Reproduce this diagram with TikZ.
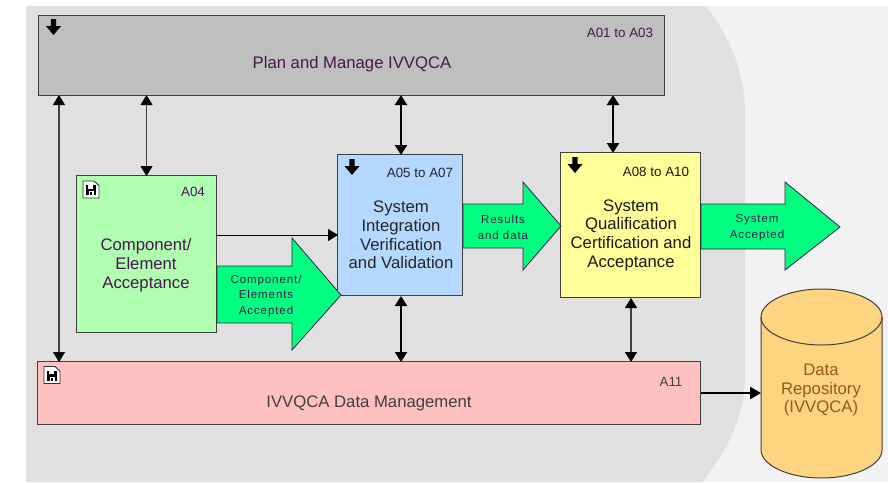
\documentclass[tikz,border=0pt]{standalone}
\usepackage{fontspec}
\setmainfont{Liberation Sans}
\newfontfamily\spacedfont[LetterSpace=8]{Liberation Sans}
\usetikzlibrary{arrows.meta}
\definecolor{lightbg}{HTML}{F2F2F2}
\definecolor{greybg}{HTML}{E0E0E0}
\definecolor{plumtext}{HTML}{4A1650}
\definecolor{edgedark}{HTML}{404040}
\definecolor{arrowgreen}{HTML}{00FF80}
\definecolor{arrowedge}{HTML}{4A1650}
\tikzset{
  x=1pt,y=-1pt,
  box/.style={draw=edgedark,line width=0.9pt,inner sep=0pt,outer sep=0pt,anchor=north west},
  title/.style={font=\fontsize{16.7}{18.7}\selectfont,align=center,inner sep=0pt},
  code/.style={font=\fontsize{13.4}{15}\selectfont,inner sep=0pt},
  small/.style={font=\spacedfont\fontsize{11.5}{15.8}\selectfont,align=center,inner sep=0pt,text=plumtext},
  link/.style={draw=black!75,line width=1.2pt,{Triangle[length=10pt,width=12pt,color=black]}-{Triangle[length=10pt,width=12pt,color=black]}},
  boldlink/.style={draw=black,line width=2.4pt,{Triangle[length=10pt,width=12pt,color=black]}-{Triangle[length=10pt,width=12pt,color=black]}},
  fat/.style={fill=arrowgreen,draw=arrowedge,line width=0.8pt,line join=miter},
  downicon/.pic={\fill[black] (-2.7,-8)--(2.7,-8)--(2.7,-1)--(7.5,-1)--(0,8)--(-7.5,-1)--(-2.7,-1)--cycle;},
  docicon/.pic={
    \draw[fill=white,draw=black!80,line width=0.9pt] (-8,-8.5)--(3,-8.5)--(8,-4)--(8,8.5)--(-8,8.5)--cycle;
    \fill[black] (-5,-4.5) rectangle (5,5.5);
    \fill[white] (-3,-4.5) rectangle (2,-1);
    \fill[white] (-2.5,1.5) rectangle (2.5,5.5);
    \fill[black] (-1,2.5) rectangle (1,5.5);
  }
}
\begin{document}
\begin{tikzpicture}
\useasboundingbox (0,0) rectangle (888,482);
\fill[white] (0,0) rectangle (888,482);
\fill[lightbg] (26,6) rectangle (888,482);
\fill[greybg] (26,6) -- (706,6) .. controls (732,40) and (745,75) .. (745,112) -- (745,377)
  .. controls (745,415) and (728,450) .. (702,482) -- (26,482) -- cycle;

\node[box,fill=black!25,minimum width=626,minimum height=80] (plan) at (38.5,15) {};
\node[box,fill={rgb,255:red,176;green,255;blue,176},minimum width=140,minimum height=157] (acc) at (76.5,175.5) {};
\node[box,fill={rgb,255:red,180;green,216;blue,255},minimum width=125,minimum height=141] (sys) at (337.5,154.5) {};
\node[box,fill={rgb,255:red,255;green,255;blue,153},minimum width=140,minimum height=145] (qual) at (560.5,152.5) {};
\node[box,fill={rgb,255:red,255;green,192;blue,192},minimum width=663,minimum height=63] (dm) at (37.5,361.5) {};

% repository cylinder
\node[inner sep=0pt,outer sep=0pt,anchor=north west,minimum width=121,minimum height=189] (repo) at (761,289) {};
\draw[draw=edgedark,line width=1pt,fill={rgb,255:red,255;green,212;blue,128}]
  (761,317) .. controls (761,302) and (788,289) .. (821.5,289)
  .. controls (855,289) and (882,302) .. (882,317) -- (882,450)
  .. controls (882,465) and (855,478) .. (821.5,478)
  .. controls (788,478) and (761,465) .. (761,450) -- cycle;
\draw[draw=edgedark,line width=1pt] (761,317) .. controls (761,332) and (788,345) .. (821.5,345)
  .. controls (855,345) and (882,332) .. (882,317);

% coordinates for connector ends
\coordinate (p1) at (59,95); \coordinate (d1) at (59,362);
\coordinate (p2) at (146.5,95); \coordinate (a2) at (146.5,176);
\coordinate (p3) at (401,95); \coordinate (s3) at (401,155);
\coordinate (s4) at (401,296); \coordinate (d4) at (401,362);
\coordinate (p5) at (613,95); \coordinate (q5) at (613,153);
\coordinate (q6) at (631,298); \coordinate (d6) at (631,362);
\coordinate (a7) at (217,235); \coordinate (s7) at (338,235);
\coordinate (d8) at (701,393); \coordinate (r8) at (761,393);

\draw[link] (p1) -- (d1);
\draw[link] (p2) -- (a2);
\draw[boldlink] (p3) -- (s3);
\draw[boldlink] (s4) -- (d4);
\draw[boldlink] (p5) -- (q5);
\draw[link] (q6) -- (d6);
\draw[draw=black,line width=1pt,-{Triangle[length=10pt,width=12pt]}] (a7) -- (s7);
\draw[draw=black,line width=2.4pt,-{Triangle[length=11pt,width=12pt]}] (d8) -- (r8);

% fat arrows
\draw[fat] (217,266) -- (292,266) -- (292,238) -- (341,295) -- (292,350) -- (292,323) -- (217,323) -- cycle;
\draw[fat] (463,204) -- (523,204) -- (523,182) -- (561,226) -- (523,270) -- (523,248) -- (463,248) -- cycle;
\draw[fat] (701,204) -- (785,204) -- (785,182) -- (840,227) -- (785,270) -- (785,249) -- (701,249) -- cycle;

% texts
\node[title,text=plumtext] (t1) at (352,64.5) {Plan and Manage IVVQCA};
\node[code,text=plumtext] (c1) at (620,32.5) {A01 to A03};
\node[title,text=plumtext] (t2) at (146,265) {Component/\\Element\\Acceptance};
\node[code,text=plumtext] (c2) at (193,191.5) {A04};
\node[title,text=black!85] (t3) at (401,235) {System\\Integration\\Verification\\and Validation};
\node[code,text=black!85] (c3) at (420,172.5) {A05 to A07};
\node[title,text=black!90] (t4) at (631,235) {System\\Qualification\\Certification and\\Acceptance};
\node[code,text=black!90] (c4) at (656,171.5) {A08 to A10};
\node[title,text=black!75] (t5) at (369,403.5) {IVVQCA Data Management};
\node[code,text=black!75] (c5) at (671,381.5) {A11};
\node[title,text={rgb,255:red,150;green,90;blue,20}] (t6) at (821,390) {Data\\Repository\\(IVVQCA)};
\node[small] (g1) at (266,296) {Component/\\Elements\\Accepted};
\node[small] (g2) at (503,227.5) {Results\\and data};
\node[small] (g3) at (757,227.5) {System\\Accepted};

\pic at (53.5,27) {downicon};
\pic at (352,167) {downicon};
\pic at (575,165) {downicon};
\pic at (91,189.5) {docicon};
\pic at (52,375) {docicon};
\end{tikzpicture}
\end{document}
